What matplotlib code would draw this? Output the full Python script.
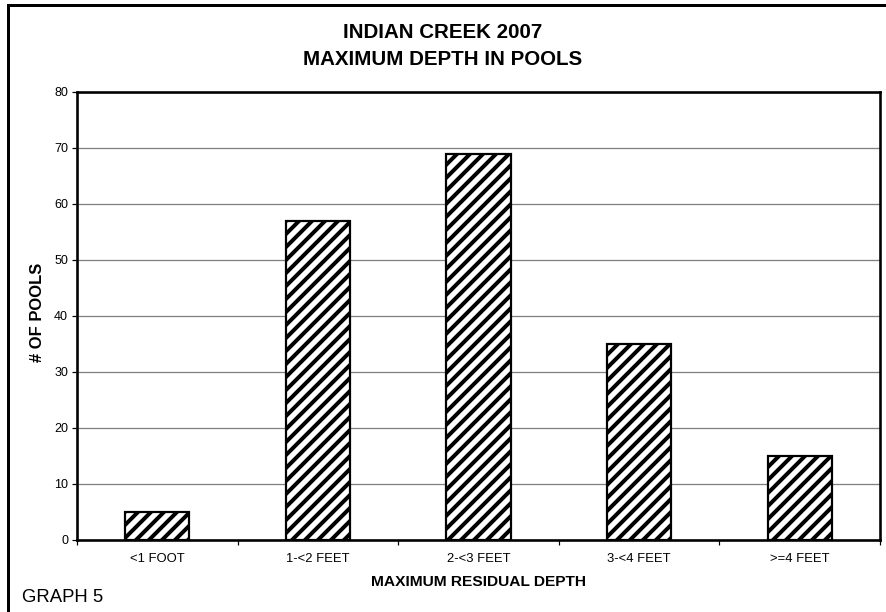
import matplotlib
matplotlib.use("Agg")
import matplotlib.pyplot as plt
from matplotlib.patches import Rectangle
import numpy as np

categories = ["<1 FOOT", "1-<2 FEET", "2-<3 FEET", "3-<4 FEET", ">=4 FEET"]
pool_counts = [5, 57, 69, 35, 15]
y_ticks = [0, 10, 20, 30, 40, 50, 60, 70, 80]

title_text = "INDIAN CREEK 2007\nMAXIMUM DEPTH IN POOLS"
x_label = "MAXIMUM RESIDUAL DEPTH"
y_label = "# OF POOLS"
graph_tag = "GRAPH 5"

DPI = 78
W, H = 886, 612


def px(v):
    """Pixel size to points at the figure dpi."""
    return v * 72.0 / DPI


plt.rcParams["font.family"] = ["Liberation Sans", "DejaVu Sans"]
plt.rcParams["hatch.linewidth"] = px(4.0)
plt.rcParams["hatch.color"] = "black"

fig = plt.figure(figsize=(W / DPI, H / DPI), dpi=DPI)
fig.patch.set_facecolor("white")

# outer frame of the page
fig.patches.append(Rectangle((8 / W, -0.1), 1.2, (H - 5) / H + 0.1,
                             transform=fig.transFigure, fill=False,
                             edgecolor="black", linewidth=px(3)))

left, right, top, bottom = 77, 880, 92, 540
ax = fig.add_axes([left / W, 1 - bottom / H, (right - left) / W, (bottom - top) / H])

x = np.arange(len(categories))
ax.bar(x, pool_counts, width=0.4, color="white", edgecolor="black",
       linewidth=px(2.2), hatch="//", zorder=3)

ax.set_xlim(-0.5, len(categories) - 0.5)
ax.set_ylim(0, 80)
ax.set_yticks(y_ticks)
ax.set_yticklabels([str(v) for v in y_ticks], fontsize=px(12.5))
ax.set_xticks(x)
ax.set_xticklabels(categories, fontsize=px(13))
ax.set_xticks(np.arange(-0.5, len(categories)), minor=True)
ax.tick_params(axis="x", which="major", length=0, pad=px(13))
ax.tick_params(axis="x", which="minor", length=px(5), width=px(1.2), direction="out")
ax.tick_params(axis="y", length=px(5), width=px(1.2), direction="out", pad=px(4))

ax.yaxis.grid(True, color="#808080", linewidth=px(1.3), zorder=0)
ax.set_axisbelow(True)
for s in ax.spines.values():
    s.set_linewidth(px(2.6))
    s.set_color("black")

fig.text(443 / W, 1 - 46 / H, title_text, ha="center", va="center",
         fontsize=px(20.5), fontweight="bold", linespacing=1.5)
fig.text(479 / W, 1 - 582 / H, x_label, ha="center", va="center",
         fontsize=px(15.5), fontweight="bold")
fig.text(38 / W, 1 - 312 / H, y_label, ha="center", va="center",
         rotation=90, fontsize=px(16.5), fontweight="bold")
fig.text(22 / W, 1 - 597 / H, graph_tag, ha="left", va="center",
         fontsize=px(18.5))

fig.savefig("out.png", dpi=DPI)
